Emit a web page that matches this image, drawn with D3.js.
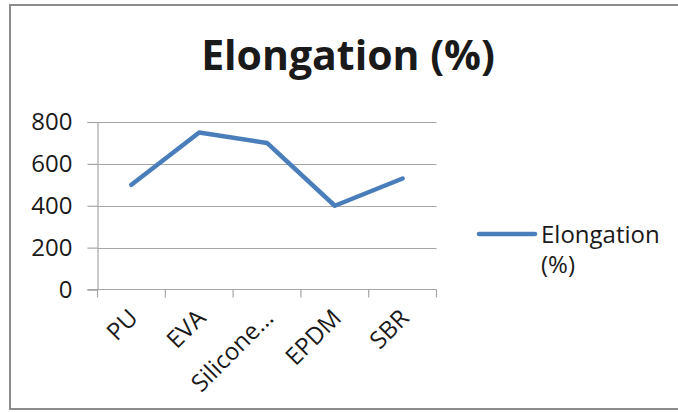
<!DOCTYPE html>
<html>
<head>
<meta charset="utf-8">
<script src="https://cdn.jsdelivr.net/npm/d3@7"></script>
<style>
  html, body { margin: 0; padding: 0; background: #fff; }
  svg { display: block; }
  text { font-family: "Open Sans", "Liberation Sans", sans-serif; fill: #1a1a1a; }
</style>
</head>
<body>
<svg id="chart" width="678" height="412"></svg>
<script>
// Elongation at break for each material
const categories = ["PU", "EVA", "Silicone...", "EPDM", "SBR"];
const elongation = [500, 750, 700, 400, 530];
const yTicks = [0, 200, 400, 600, 800];
const seriesName = "Elongation (%)";
const chartTitle = "Elongation (%)";

const svg = d3.select("#chart");
const W = 678, H = 412;

// chart frame
svg.append("path")
  .attr("d", `M${W},5 H10 V409 H${W}`)
  .attr("fill", "none")
  .attr("stroke", "#8c8c8c")
  .attr("stroke-width", 2);

const plot = { left: 97.5, right: 436.5, top: 122, bottom: 289.5 };

const x = d3.scaleBand().domain(categories).range([plot.left, plot.right]);
const y = d3.scaleLinear().domain([0, 800]).range([plot.bottom, plot.top]);

// horizontal gridlines
svg.append("g")
  .selectAll("line")
  .data(yTicks.filter(d => d > 0))
  .join("line")
  .attr("x1", plot.left).attr("x2", plot.right)
  .attr("y1", d => Math.round(y(d)) + 0.5).attr("y2", d => Math.round(y(d)) + 0.5)
  .attr("stroke", "#a6a6a6").attr("stroke-width", 1.2);

// y axis
const yAxis = svg.append("g")
  .attr("transform", `translate(${plot.left},0)`)
  .call(d3.axisLeft(y).tickValues(yTicks).tickSize(10).tickPadding(15).tickFormat(d3.format("d")));
yAxis.select(".domain").attr("stroke", "#a6a6a6").attr("stroke-width", 1.2);
yAxis.selectAll(".tick line").attr("stroke", "#a6a6a6").attr("stroke-width", 1.2);
yAxis.selectAll("text")
  .style("font-family", "'Open Sans', sans-serif")
  .style("font-size", "24px")
  .attr("fill", "#1a1a1a");

// x axis with tick marks at band boundaries
const xg = svg.append("g").attr("transform", `translate(0,${plot.bottom})`);
xg.append("line")
  .attr("x1", plot.left - 10).attr("x2", plot.right)
  .attr("stroke", "#a6a6a6").attr("stroke-width", 1.2);
const bounds = categories.map(c => x(c)).concat([plot.right]);
xg.selectAll("line.tk")
  .data(bounds)
  .join("line")
  .attr("class", "tk")
  .attr("x1", d => d).attr("x2", d => d)
  .attr("y1", 0).attr("y2", 8)
  .attr("stroke", "#a6a6a6").attr("stroke-width", 1.2);
xg.selectAll("text")
  .data(categories)
  .join("text")
  .attr("transform", d => `translate(${x(d) + x.bandwidth() / 2 + 2},${24}) rotate(-45)`)
  .attr("text-anchor", "end")
  .attr("dy", "0.35em")
  .style("font-size", "24px")
  .text(d => d);

// data line
const line = d3.line()
  .x((d, i) => x(categories[i]) + x.bandwidth() / 2)
  .y(d => y(d));
svg.append("path")
  .datum(elongation)
  .attr("d", line)
  .attr("fill", "none")
  .attr("stroke", "#4a7ebb")
  .attr("stroke-width", 4.5)
  .attr("stroke-linejoin", "round")
  .attr("stroke-linecap", "round");

// title
svg.append("text")
  .attr("x", 348).attr("y", 70)
  .attr("text-anchor", "middle")
  .style("font-size", "41px")
  .style("font-weight", "bold")
  .attr("fill", "#000")
  .text(chartTitle);

// legend
const lg = svg.append("g");
lg.append("line")
  .attr("x1", 479).attr("x2", 535).attr("y1", 234).attr("y2", 234)
  .attr("stroke", "#4a7ebb").attr("stroke-width", 4.5).attr("stroke-linecap", "round");
const words = seriesName.split(" ");
lg.append("text")
  .attr("x", 541).attr("y", 243)
  .style("font-size", "24px")
  .selectAll("tspan")
  .data(words)
  .join("tspan")
  .attr("x", 541)
  .attr("dy", (d, i) => i === 0 ? 0 : 30)
  .text(d => d);
</script>
</body>
</html>
